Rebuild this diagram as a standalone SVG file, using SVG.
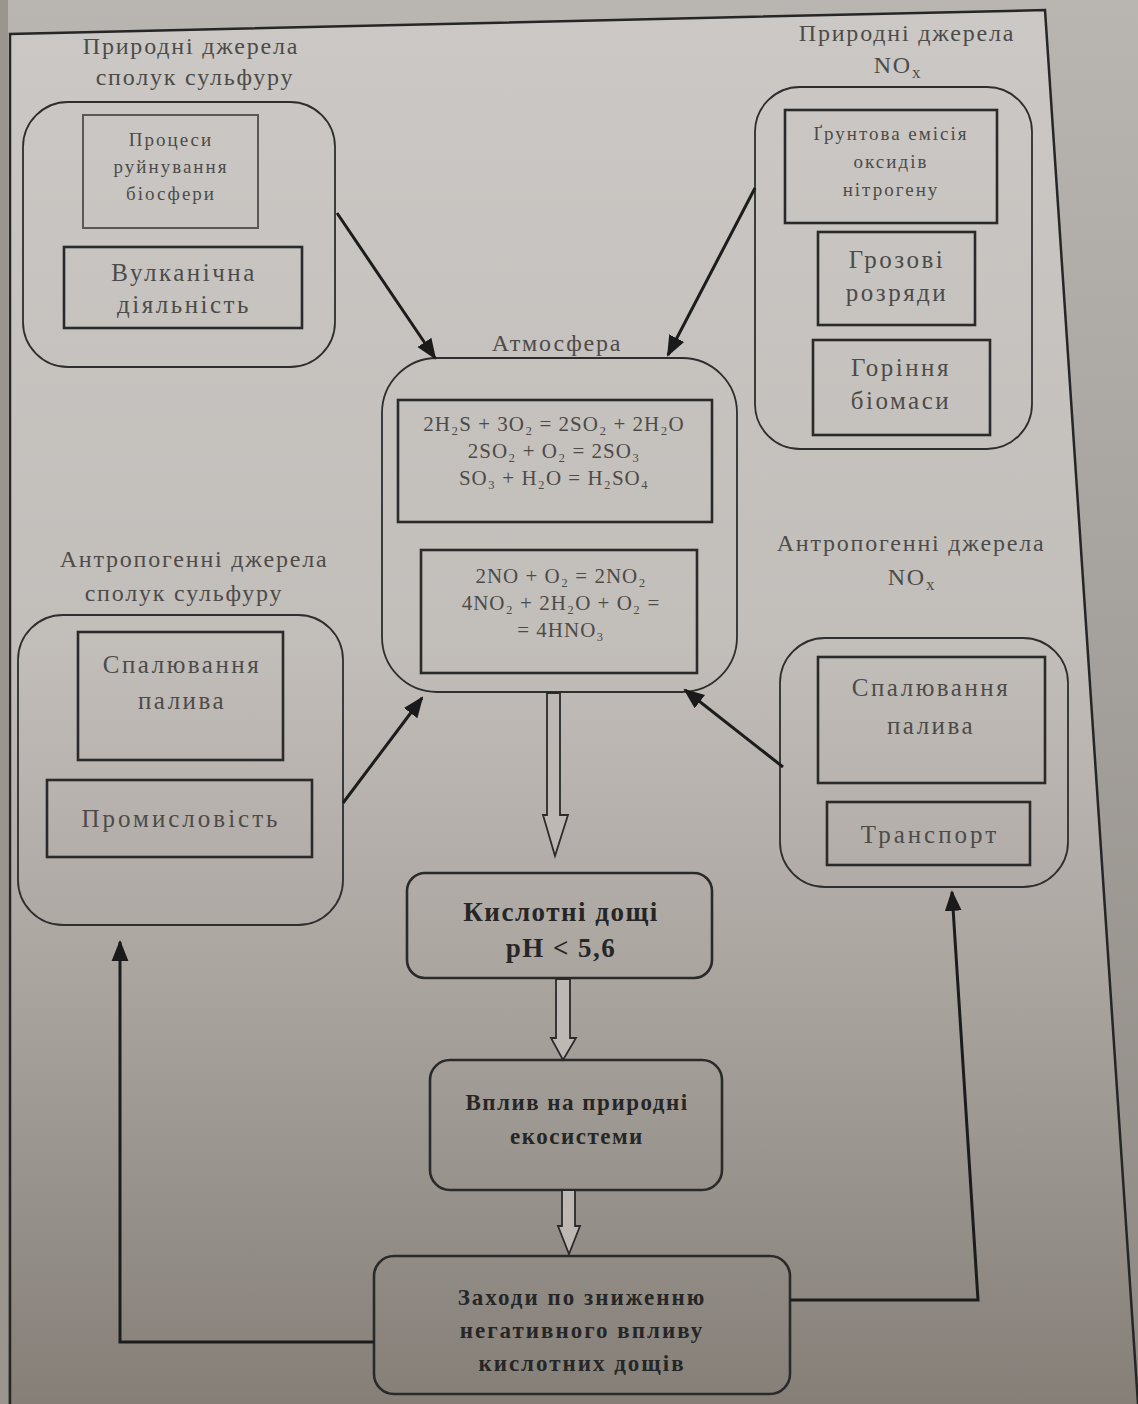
<svg xmlns="http://www.w3.org/2000/svg" width="1138" height="1404" viewBox="0 0 1138 1404">
<defs>
<linearGradient id="page" x1="0" y1="0" x2="0" y2="1">
<stop offset="0" stop-color="#cbc8c5"/>
<stop offset="0.45" stop-color="#c2beba"/>
<stop offset="0.7" stop-color="#aaa49f"/>
<stop offset="1" stop-color="#857f78"/>
</linearGradient>
<linearGradient id="out" x1="0" y1="0" x2="0" y2="1">
<stop offset="0" stop-color="#b9b6b2"/>
<stop offset="1" stop-color="#8d8882"/>
</linearGradient>
<marker id="ahs" viewBox="0 0 10 10" refX="9" refY="5" markerWidth="7" markerHeight="7" orient="auto" markerUnits="strokeWidth">
<path d="M0,1 L10,5 L0,9 z" fill="#1a1a1a"/>
</marker>
</defs>
<style>
.grp{fill:none;stroke:#2e2e2e;stroke-width:1.8}
.box{fill:none;stroke:#2a2a2a;stroke-width:2.6}
.t{font-family:"Liberation Serif","Times New Roman",serif;fill:#4d4b49;text-anchor:middle}
.lbl{font-size:24px;letter-spacing:1.8px}
.n{font-size:25px;letter-spacing:2.5px}
.s{font-size:19px;letter-spacing:2px}
.eq{font-size:21px;letter-spacing:1px}
.b{font-family:"Liberation Serif","Times New Roman",serif;fill:#262626;text-anchor:middle;font-weight:bold}
.con{fill:none;stroke:#1c1c1c;stroke-width:3}
.fb{fill:none;stroke:#1c1c1c;stroke-width:3}
.hollow{fill:#bdb8b3;stroke:#2a2a2a;stroke-width:1.8}
</style>
<rect x="0" y="0" width="1138" height="1404" fill="url(#out)"/>
<polygon points="0,34 1045,10 1138,1404 0,1404" fill="url(#page)"/>
<rect x="0" y="0" width="8" height="1404" fill="#9a958f"/>
<g id="frame" fill="none" stroke="#262626" stroke-width="2.5">
<polyline points="10,1404 10,34 1045,10 1138,1404"/>
</g>

<g id="natural-sulfur">
<text class="t lbl" x="191" y="54">Природні джерела</text>
<text class="t lbl" x="195" y="85">сполук сульфуру</text>
<rect class="grp" x="23" y="102" width="312" height="265" rx="45"/>
<rect class="box" x="83" y="115" width="175" height="113" style="stroke:#5a5856;stroke-width:2"/>
<text class="t s" x="171" y="146">Процеси</text>
<text class="t s" x="171" y="173">руйнування</text>
<text class="t s" x="171" y="200">біосфери</text>
<rect class="box" x="64" y="247" width="238" height="81"/>
<text class="t n" x="184" y="281">Вулканічна</text>
<text class="t n" x="184" y="313">діяльність</text>
</g>

<g id="natural-nox">
<text class="t lbl" x="907" y="41">Природні джерела</text>
<text class="t lbl" x="898" y="73">NO<tspan font-size="17" dy="5">x</tspan></text>
<rect class="grp" x="755" y="87" width="277" height="362" rx="45"/>
<rect class="box" x="785" y="110" width="212" height="113"/>
<text class="t s" x="891" y="140">Ґрунтова емісія</text>
<text class="t s" x="891" y="168">оксидів</text>
<text class="t s" x="891" y="196">нітрогену</text>
<rect class="box" x="818" y="232" width="157" height="93"/>
<text class="t n" x="897" y="268">Грозові</text>
<text class="t n" x="897" y="301">розряди</text>
<rect class="box" x="813" y="340" width="177" height="95"/>
<text class="t n" x="901" y="376">Горіння</text>
<text class="t n" x="901" y="409">біомаси</text>
</g>

<g id="atmosphere">
<text class="t lbl" x="557" y="351">Атмосфера</text>
<rect class="grp" x="382" y="358" width="355" height="334" rx="55"/>
<rect class="box" x="398" y="400" width="314" height="122"/>
<text class="t eq" x="554" y="431">2H₂S + 3O₂ = 2SO₂ + 2H₂O</text>
<text class="t eq" x="554" y="458">2SO₂ + O₂ = 2SO₃</text>
<text class="t eq" x="554" y="485">SO₃ + H₂O = H₂SO₄</text>
<rect class="box" x="421" y="550" width="276" height="123"/>
<text class="t eq" x="561" y="583">2NO + O₂ = 2NO₂</text>
<text class="t eq" x="561" y="610">4NO₂ + 2H₂O + O₂ =</text>
<text class="t eq" x="561" y="637">= 4HNO₃</text>
</g>

<g id="anthro-sulfur">
<text class="t lbl" x="194" y="567">Антропогенні джерела</text>
<text class="t lbl" x="184" y="601">сполук сульфуру</text>
<rect class="grp" x="18" y="615" width="325" height="310" rx="45"/>
<rect class="box" x="78" y="632" width="205" height="128"/>
<text class="t n" x="182" y="673">Спалювання</text>
<text class="t n" x="182" y="709">палива</text>
<rect class="box" x="47" y="780" width="265" height="77"/>
<text class="t n" x="181" y="827" style="letter-spacing:3px">Промисловість</text>
</g>

<g id="anthro-nox">
<text class="t lbl" x="911" y="551">Антропогенні джерела</text>
<text class="t lbl" x="912" y="585">NO<tspan font-size="17" dy="5">x</tspan></text>
<rect class="grp" x="780" y="638" width="288" height="249" rx="45"/>
<rect class="box" x="818" y="657" width="227" height="126"/>
<text class="t n" x="931" y="696">Спалювання</text>
<text class="t n" x="931" y="734">палива</text>
<rect class="box" x="827" y="802" width="203" height="63"/>
<text class="t n" x="930" y="843" style="letter-spacing:3px">Транспорт</text>
</g>

<g id="acid-rain">
<rect class="box" x="407" y="873" width="305" height="105" rx="18"/>
<text class="b" x="561" y="921" font-size="27" letter-spacing="1.5">Кислотні дощі</text>
<text class="b" x="561" y="957" font-size="27" letter-spacing="1.5">pH &lt; 5,6</text>
</g>

<g id="impact">
<rect class="box" x="430" y="1060" width="292" height="130" rx="20"/>
<text class="b" x="577" y="1110" font-size="23" letter-spacing="1.5">Вплив на природні</text>
<text class="b" x="577" y="1144" font-size="23" letter-spacing="1.5">екосистеми</text>
</g>

<g id="measures">
<rect class="box" x="374" y="1256" width="416" height="138" rx="20"/>
<text class="b" x="582" y="1305" font-size="23" letter-spacing="2">Заходи по зниженню</text>
<text class="b" x="582" y="1338" font-size="23" letter-spacing="2">негативного впливу</text>
<text class="b" x="582" y="1371" font-size="23" letter-spacing="2">кислотних дощів</text>
</g>

<g id="connectors">
<line class="con" x1="337" y1="213" x2="435" y2="358" marker-end="url(#ahs)"/>
<line class="con" x1="755" y1="188" x2="668" y2="355" marker-end="url(#ahs)"/>
<line class="con" x1="343" y1="803" x2="422" y2="698" marker-end="url(#ahs)"/>
<line class="con" x1="783" y1="767" x2="685" y2="690" marker-end="url(#ahs)"/>
<polygon class="hollow" points="547,693 560,693 560,815 568,815 555,856 543,815 547,815"/>
<polygon class="hollow" points="556,979 570,979 570,1038 576,1038 563,1060 551,1038 556,1038"/>
<polygon class="hollow" points="562,1190 575,1190 575,1226 580,1226 569,1254 558,1226 562,1226"/>
<polyline class="fb" points="374,1342 120,1342 120,942" marker-end="url(#ahs)"/>
<polyline class="fb" points="790,1300 978,1300 952,892" marker-end="url(#ahs)"/>
</g>
</svg>
